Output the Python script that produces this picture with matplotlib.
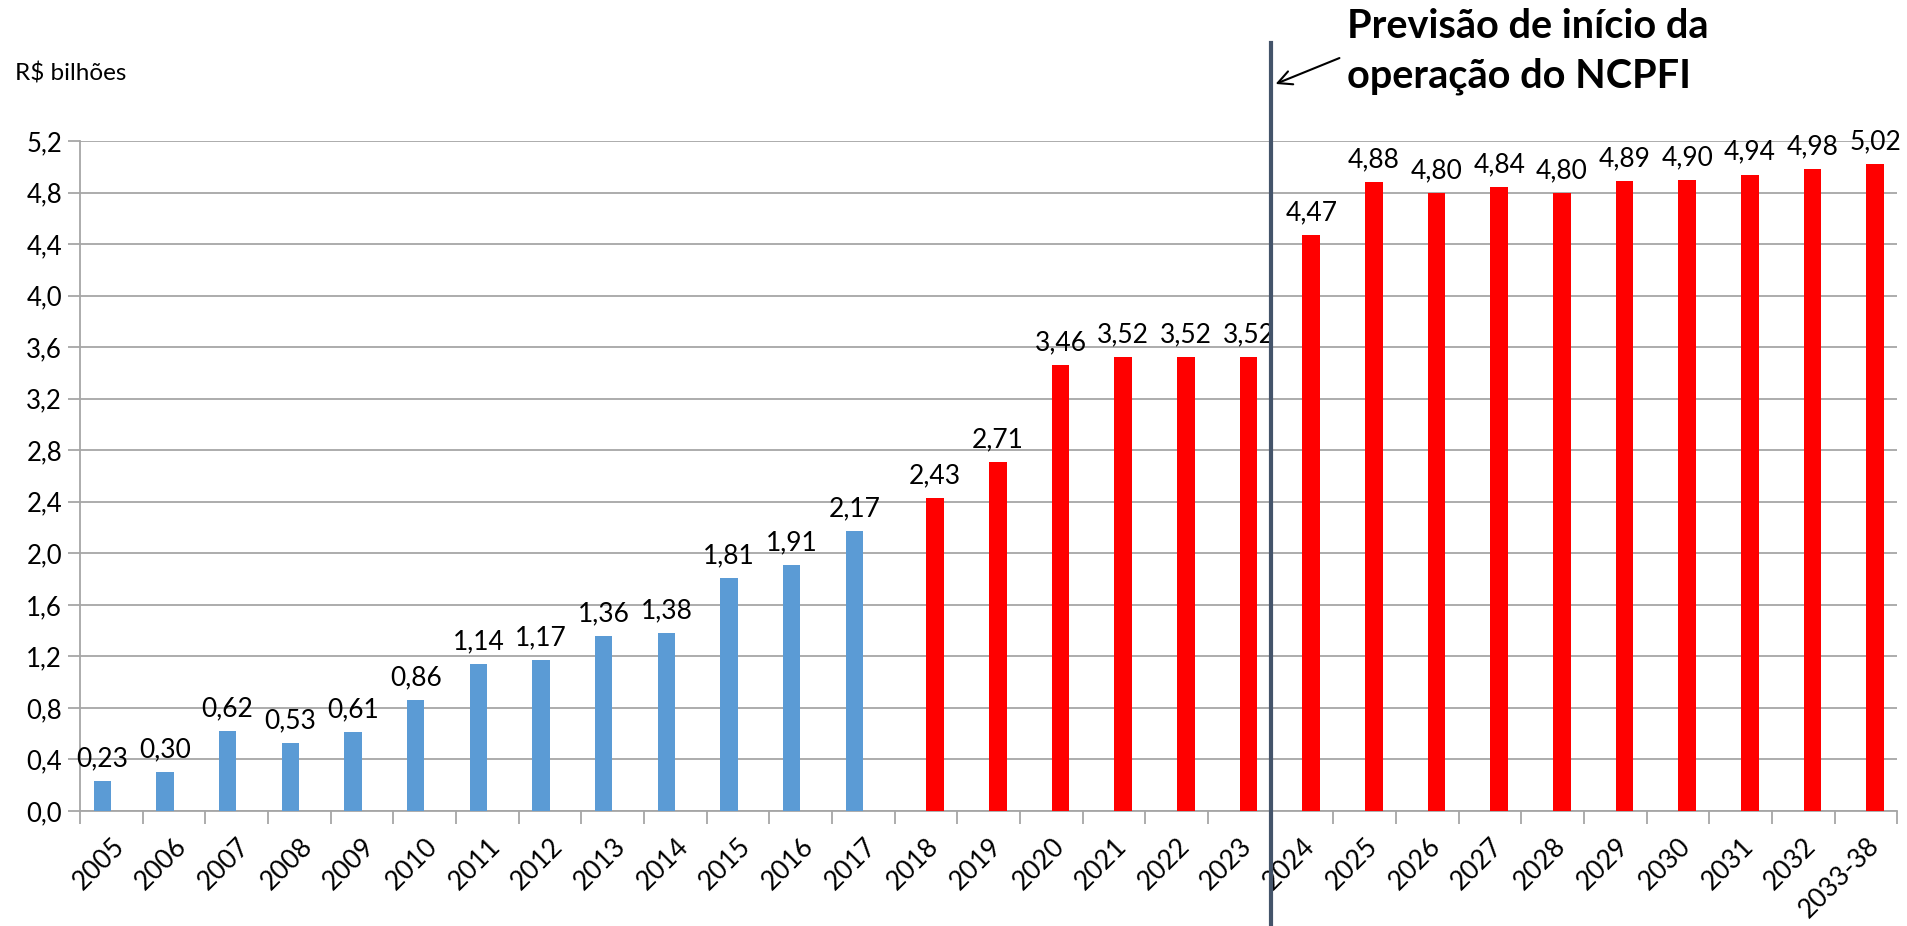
import matplotlib.pyplot as plt
from matplotlib.transforms import blended_transform_factory

plt.rcParams['font.family'] = ['Lato', 'DejaVu Sans']

# Data
years = ['2005', '2006', '2007', '2008', '2009', '2010', '2011', '2012', '2013', '2014',
         '2015', '2016', '2017', '2018', '2019', '2020', '2021', '2022', '2023', '2024',
         '2025', '2026', '2027', '2028', '2029', '2030', '2031', '2032', '2033-38']
realizado = [0.23, 0.30, 0.62, 0.53, 0.61, 0.86, 1.14, 1.17, 1.36, 1.38, 1.81, 1.91, 2.17]
projetado = [2.43, 2.71, 3.46, 3.52, 3.52, 3.52, 4.47, 4.88, 4.80, 4.84, 4.80, 4.89,
             4.90, 4.94, 4.98, 5.02]
yticks = [0.0, 0.4, 0.8, 1.2, 1.6, 2.0, 2.4, 2.8, 3.2, 3.6, 4.0, 4.4, 4.8, 5.2]

fig = plt.figure(figsize=(19.07, 9.26), dpi=100)
ax = fig.add_axes([0.042, 0.1242, 0.953, 0.7235])

w = 0.28
x_real = [i - 0.145 for i in range(len(realizado))]
x_proj = [i + 0.145 for i in range(len(realizado), len(years))]
ax.bar(x_real, realizado, width=w, color='#5B9BD5', zorder=3)
ax.bar(x_proj, projetado, width=w, color='#FF0000', zorder=3)

# Labels above bars
for xs, vals in [(x_real, realizado), (x_proj, projetado)]:
    for x, v in zip(xs, vals):
        ax.annotate(f'{v:.2f}'.replace('.', ','), (x, v), textcoords='offset points',
                    xytext=(0, 7), ha='center', va='bottom', fontsize=19)

ax.set_xlim(-0.5, len(years) - 0.5)
ax.set_ylim(0, 5.2)
ax.set_yticks(yticks)
ax.set_yticklabels([f'{t:.1f}'.replace('.', ',') for t in yticks], fontsize=18.5)
ax.yaxis.grid(True, color='#A6A6A6', linewidth=1.3, zorder=0)

# Category ticks at boundaries, labels at centers
ax.set_xticks([i - 0.5 for i in range(len(years) + 1)])
ax.set_xticklabels([])
ax.set_xticks(range(len(years)), minor=True)
ax.set_xticklabels(years, minor=True, rotation=45, ha='right', rotation_mode='anchor',
                   fontsize=19)
ax.tick_params(axis='x', which='major', length=9, color='#A6A6A6', width=1.3)
ax.tick_params(axis='x', which='minor', length=0, pad=16)
ax.tick_params(axis='y', length=9, color='#A6A6A6', width=1.3, pad=4)

for s in ['top', 'right']:
    ax.spines[s].set_visible(False)
ax.spines['left'].set_color('#A6A6A6')
ax.spines['bottom'].set_color('#A6A6A6')
ax.spines['left'].set_linewidth(1.3)
ax.spines['bottom'].set_linewidth(1.3)

# Vertical separator line
trans = blended_transform_factory(ax.transData, ax.transAxes)
ax.plot([18.5, 18.5], [-0.2, 1.146], transform=trans, color='#44546A', linewidth=3,
        clip_on=False, zorder=5)

fig.text(0.008, 0.921, 'R$ bilhões', fontsize=17.5, va='center', ha='left')

ax.annotate('', xy=(1273 / 1907, 1 - 85 / 926), xycoords='figure fraction',
            xytext=(1342 / 1907, 1 - 57 / 926), textcoords='figure fraction',
            arrowprops=dict(arrowstyle='->', color='black', lw=1.5, mutation_scale=25))
fig.text(1347 / 1907, 1 - 27 / 926, 'Previsão de início da', fontsize=28.5,
         fontweight='bold', va='center', ha='left')
fig.text(1347 / 1907, 1 - 76 / 926, 'operação do NCPFI', fontsize=28.5,
         fontweight='bold', va='center', ha='left')

plt.savefig('out.png', dpi=100)
